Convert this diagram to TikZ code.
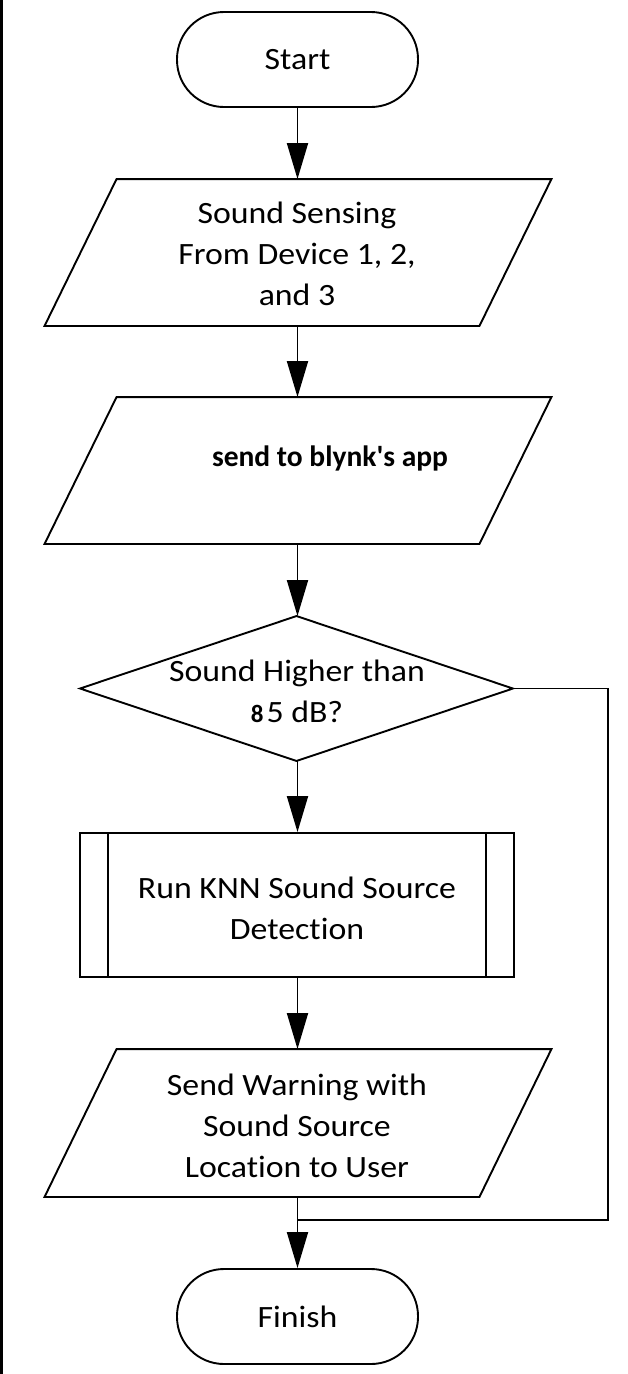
\documentclass[tikz,border=0pt]{standalone}
\usepackage{fontspec}
\setmainfont{Carlito}[FakeStretch=1.09,RawFeature=-liga]
\newfontfamily\boldplain{Carlito}[RawFeature=-liga]
\usetikzlibrary{arrows.meta,calc}
\begin{document}
\begin{tikzpicture}[x=1pt,y=-1pt,
  line width=1.9pt,
  txt/.style={align=center,font=\fontsize{31}{41}\selectfont,inner sep=0pt},
  arr/.style={-{Triangle[length=36pt,width=21pt]}},
]
\useasboundingbox (0,0) rectangle (627,1374);
\fill[black] (0,0) rectangle (2.5,1374);

% Start
\node[draw,rounded corners=47pt,minimum width=241pt,minimum height=95pt,inner sep=0pt,font=\fontsize{31}{41}\selectfont] (start) at (297.5,59.5) {Start};

% Sound sensing parallelogram
\node[minimum width=433pt,minimum height=145pt,inner sep=0pt] (p1) at (298,252.5) {};
\draw ([xshift=36pt]p1.north west) -- ([xshift=36pt]p1.north east) -- ([xshift=-36pt]p1.south east) -- ([xshift=-36pt]p1.south west) -- cycle;
\node[txt] (t1) at (297,254) {Sound Sensing\\From Device 1, 2,\\and 3};

% Blynk parallelogram
\node[minimum width=433pt,minimum height=145pt,inner sep=0pt] (p2) at (298,470.5) {};
\draw ([xshift=36pt]p2.north west) -- ([xshift=36pt]p2.north east) -- ([xshift=-36pt]p2.south east) -- ([xshift=-36pt]p2.south west) -- cycle;
\node[inner sep=0pt,font=\boldplain\bfseries\fontsize{29.5}{34}\selectfont] (t2) at (330,458) {send to blynk's app};

% Decision
\node[minimum width=431pt,minimum height=143pt,inner sep=0pt] (d) at (296.5,688.5) {};
\draw (d.north) -- (d.east) -- (d.south) -- (d.west) -- cycle;
\node[txt] (td) at (297,691) {Sound Higher than\\{\boldplain\bfseries\fontsize{25}{30}\selectfont 8}\kern3pt5 dB?};

% Predefined process
\node[draw,minimum width=434pt,minimum height=144pt,inner sep=0pt] (knn) at (297,905) {};
\draw ([xshift=29pt]knn.north west) -- ([xshift=29pt]knn.south west);
\draw ([xshift=-29pt]knn.north east) -- ([xshift=-29pt]knn.south east);
\node[txt] (tk) at (297,908) {Run KNN Sound Source\\Detection};

% Send warning parallelogram
\node[minimum width=433pt,minimum height=146pt,inner sep=0pt] (p3) at (298,1123) {};
\draw ([xshift=36pt]p3.north west) -- ([xshift=36pt]p3.north east) -- ([xshift=-36pt]p3.south east) -- ([xshift=-36pt]p3.south west) -- cycle;
\node[txt] (t3) at (297,1126) {Send Warning with\\Sound Source\\Location to User};

% Finish
\node[draw,rounded corners=47pt,minimum width=241pt,minimum height=95pt,inner sep=0pt,font=\fontsize{31}{41}\selectfont] (finish) at (297.5,1316.5) {Finish};

% connectors
\coordinate (cr) at (608,688.5);
\coordinate (crb) at (608,1220);
\coordinate (join) at (297,1220);
\draw[arr] (start.south) -- (p1.north -| start.south);
\draw[arr] (p1.south -| start.south) -- (p2.north -| start.south);
\draw[arr] (p2.south -| start.south) -- (d.north -| start.south);
\draw[arr] (d.south -| start.south) -- (knn.north -| start.south);
\draw[arr] (knn.south -| start.south) -- (p3.north -| start.south);
\draw[arr] (p3.south -| start.south) -- (finish.north);
\draw (d.east) -- (cr) -- (crb) -- (join);
\end{tikzpicture}
\end{document}
